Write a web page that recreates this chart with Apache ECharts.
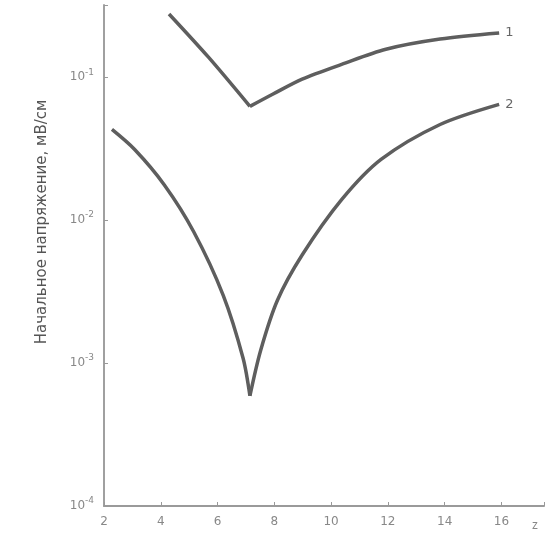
<!DOCTYPE html>
<html>
<head>
<meta charset="utf-8">
<script src="https://cdn.jsdelivr.net/npm/echarts@6/dist/echarts.min.js"></script>
<style>html,body{margin:0;padding:0;background:#fff}#c{width:547px;height:535px}</style>
</head>
<body>
<div id="c"></div>
<script>
const xTicks = [2, 4, 6, 8, 10, 12, 14, 16];
const yTickExps = [-4, -3, -2, -1];
// curve 1: falling branch and rising branch (share the minimum)
const curve1FallX = [4.29, 5.68, 7.14];
const curve1FallY = [0.277, 0.138, 0.0625];
const curve1RiseX = [7.14, 7.94, 8.98, 10.37, 11.93, 13.84, 15.92];
const curve1RiseY = [0.0625, 0.076, 0.097, 0.123, 0.157, 0.185, 0.204];
// curve 2
const curve2FallX = [2.28, 3.08, 4.12, 5.16, 6.2, 6.9, 7.14];
const curve2FallY = [0.0431, 0.0312, 0.0177, 0.0083, 0.00298, 0.00108, 0.00059];
const curve2RiseX = [7.14, 7.52, 8.11, 8.98, 10.37, 11.76, 13.84, 15.92];
const curve2RiseY = [0.00059, 0.00123, 0.00275, 0.0057, 0.0139, 0.0266, 0.0467, 0.0646];
const seriesNames = ['1', '2'];
const yTitle = 'Начальное напряжение, мВ/см';

const chart = echarts.init(document.getElementById('c'), null, {renderer: 'canvas'});
const pair = (xs, ys) => xs.map((x, i) => [x, ys[i]]);
const lineCol = '#5e5e5e';
function mkSeries(name, xs, ys, label) {
  return {
    type: 'line', name: name, data: pair(xs, ys),
    smooth: 0.3, symbol: 'none',
    lineStyle: {color: lineCol, width: 3.5},
    endLabel: {show: label, formatter: name, color: '#666', fontSize: 13, distance: 6, fontFamily: 'DejaVu Sans'}
  };
}
chart.setOption({
  animation: false,
  backgroundColor: '#ffffff',
  grid: {left: 104, right: 0, top: 5, bottom: 29, containLabel: false},
  xAxis: {
    type: 'value', min: 2, max: 17.5, interval: 2,
    name: 'z', nameLocation: 'end', nameGap: -12,
    nameTextStyle: {color: '#888', fontSize: 12, verticalAlign: 'top', padding: [14, 0, 0, 0]},
    axisLine: {lineStyle: {color: '#9a9a9a', width: 2}},
    axisTick: {show: true, inside: true, length: 4, lineStyle: {color: '#999'}},
    splitLine: {show: false},
    axisLabel: {color: '#888', fontSize: 12, fontFamily: 'DejaVu Sans', margin: 10,
      formatter: v => xTicks.indexOf(v) >= 0 ? String(v) : ''}
  },
  yAxis: {
    type: 'log', logBase: 10, min: 1e-4, max: 0.32,
    axisLine: {show: true, lineStyle: {color: '#a0a0a0', width: 2}},
    axisTick: {show: true, inside: true, length: 4, lineStyle: {color: '#999'}},
    splitLine: {show: false},
    axisLabel: {
      color: '#888', margin: 10,
      formatter: v => {
        const e = Math.round(Math.log10(v));
        if (Math.abs(Math.log10(v) - e) > 1e-6 || yTickExps.indexOf(e) < 0) return '';
        return '{b|10}{s|' + e + '}';
      },
      rich: {
        b: {fontSize: 12, color: '#888', fontFamily: 'DejaVu Sans'},
        s: {fontSize: 9, color: '#888', fontFamily: 'DejaVu Sans', verticalAlign: 'bottom', padding: [0, 0, 10, 0]}
      }
    }
  },
  graphic: [{
    type: 'text', x: 42, y: 222, rotation: Math.PI / 2,
    style: {text: yTitle, fill: '#555', fontSize: 15, fontFamily: 'DejaVu Sans', align: 'center', verticalAlign: 'middle'}
  }],
  series: [
    mkSeries(seriesNames[0], curve1FallX, curve1FallY, false),
    mkSeries(seriesNames[0], curve1RiseX, curve1RiseY, true),
    mkSeries(seriesNames[1], curve2FallX, curve2FallY, false),
    mkSeries(seriesNames[1], curve2RiseX, curve2RiseY, true)
  ]
});
</script>
</body>
</html>
